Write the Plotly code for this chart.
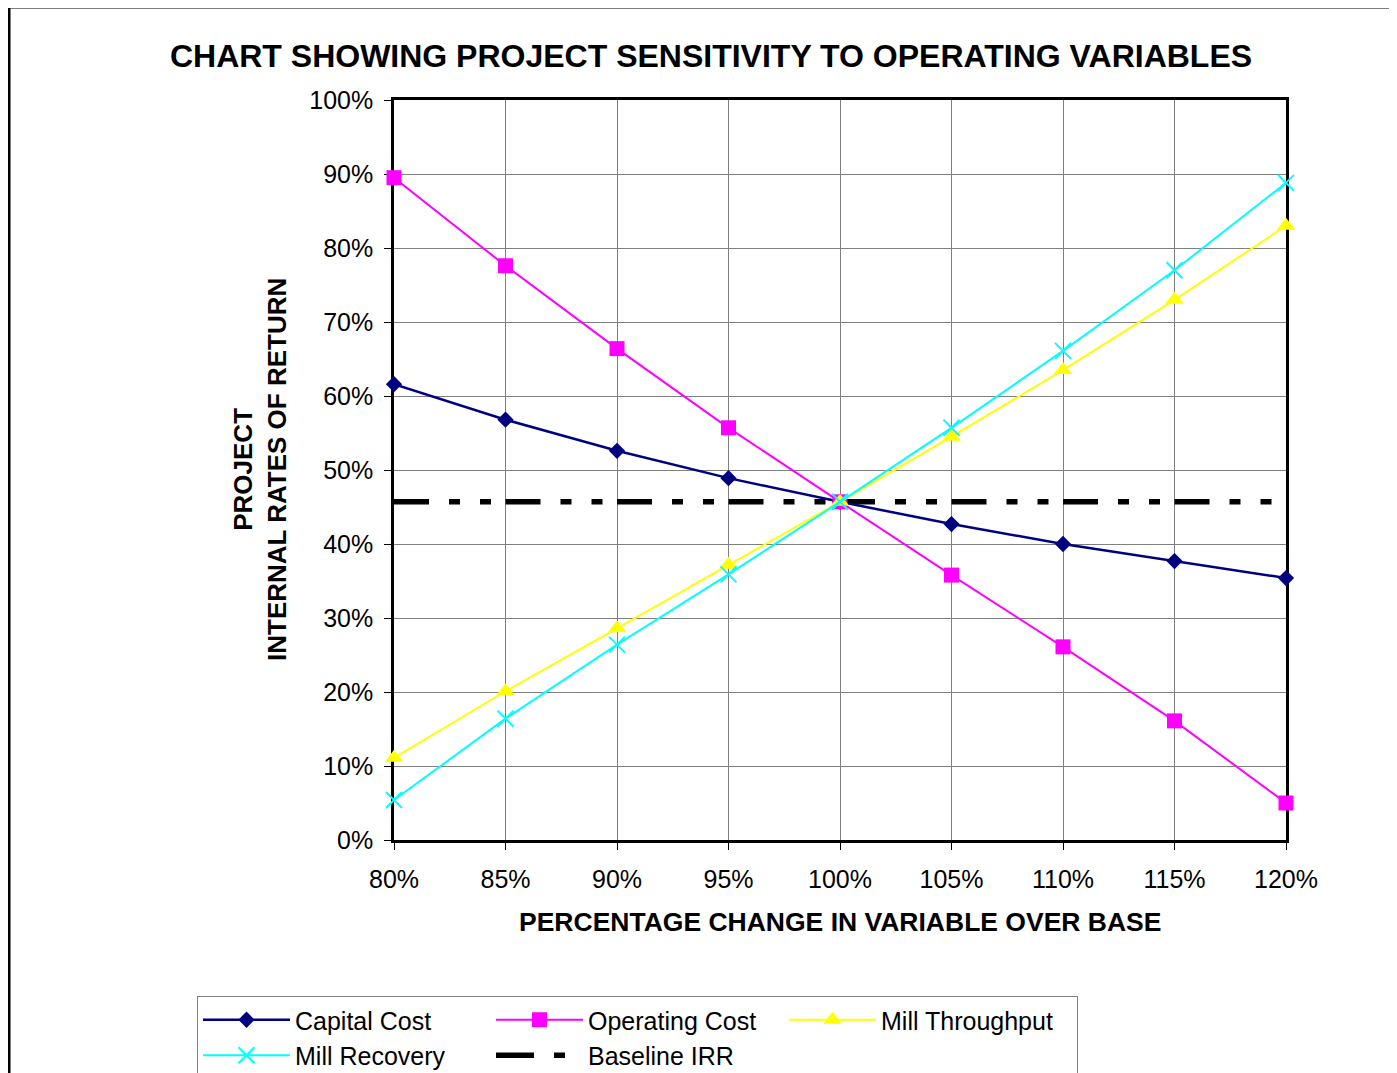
import plotly.graph_objects as go

x_pct = [80, 85, 90, 95, 100, 105, 110, 115, 120]
capital_cost = [61.6, 56.8, 52.6, 48.9, 45.7, 42.7, 40.0, 37.7, 35.4]
operating_cost = [89.5, 77.6, 66.4, 55.7, 45.7, 35.8, 26.1, 16.1, 5.0]
mill_throughput = [11.1, 20.1, 28.6, 37.2, 45.7, 54.5, 63.5, 73.0, 83.0]
mill_recovery = [5.4, 16.4, 26.4, 35.9, 45.7, 55.7, 66.1, 77.0, 88.8]
baseline_irr = [45.7] * len(x_pct)

x_ticks = [80, 85, 90, 95, 100, 105, 110, 115, 120]
x_ticklabels = ["80%", "85%", "90%", "95%", "100%", "105%", "110%", "115%", "120%"]
y_ticks = [0, 10, 20, 30, 40, 50, 60, 70, 80, 90, 100]
y_ticklabels = ["0%", "10%", "20%", "30%", "40%", "50%", "60%", "70%", "80%", "90%", "100%"]

FONT = "Arial, Liberation Sans, sans-serif"
OFF = 8  # page body offset

fig = go.Figure()
fig.add_trace(go.Scatter(x=x_pct, y=baseline_irr, name="Baseline IRR", mode="lines",
                         showlegend=False,
                         line=dict(color="black", width=5.5,
                                   dash="35px,20px,11px,20px,11px,14.5px")))
fig.add_trace(go.Scatter(x=x_pct, y=capital_cost, name="Capital Cost", mode="lines+markers",
                         legendrank=1,
                         line=dict(color="#000080", width=2.5),
                         marker=dict(symbol="diamond", size=12.5, color="#000080"),
                         cliponaxis=False))
fig.add_trace(go.Scatter(x=x_pct, y=operating_cost, name="Operating Cost", mode="lines+markers",
                         legendrank=2,
                         line=dict(color="#FF00FF", width=2),
                         marker=dict(symbol="square", size=15, color="#FF00FF"),
                         cliponaxis=False))
fig.add_trace(go.Scatter(x=x_pct, y=mill_throughput, name="Mill Throughput", mode="lines+markers",
                         legendrank=3,
                         line=dict(color="#FFFF00", width=2),
                         marker=dict(symbol="triangle-up", size=16, color="#FFFF00"),
                         cliponaxis=False))
fig.add_trace(go.Scatter(x=x_pct, y=mill_recovery, name="Mill Recovery", mode="lines+markers",
                         legendrank=4,
                         line=dict(color="#00FFFF", width=2),
                         marker=dict(symbol="x-thin", size=16, color="#00FFFF",
                                     line=dict(color="#00FFFF", width=2)),
                         cliponaxis=False))
# legend entry for the baseline (dash pattern adapted to the short legend sample)
fig.add_trace(go.Scatter(x=[None], y=[None], name="Baseline IRR", mode="lines",
                         legendrank=5,
                         line=dict(color="black", width=5.5, dash="38px,20px,11px,60px")))

axis_common = dict(
    showgrid=True, gridcolor="#808080", gridwidth=1,
    showline=True, linecolor="black", linewidth=2.5, mirror=True,
    ticks="outside", ticklen=7, tickcolor="black", tickwidth=1,
    tickfont=dict(family=FONT, size=25, color="black"),
    zeroline=False, layer="below traces",
)

fig.update_xaxes(range=[80, 120], tickmode="array", tickvals=x_ticks, ticktext=x_ticklabels,
                 ticklabelstandoff=8, **axis_common)
fig.update_yaxes(range=[0, 100], tickmode="array", tickvals=y_ticks, ticktext=y_ticklabels,
                 ticklabelstandoff=6, **axis_common)

W, H = 1397 - OFF, 1073 - OFF
L, T = 394 - OFF, 100 - OFF
fig.update_layout(
    width=W, height=H,
    margin=dict(l=L, r=W - L - 892, t=T, b=H - T - 740, autoexpand=False),
    paper_bgcolor="white", plot_bgcolor="white",
    font=dict(family=FONT, color="black"),
    title=dict(text="<b>CHART SHOWING PROJECT SENSITIVITY TO OPERATING VARIABLES</b>",
               x=(711 - OFF) / W, xanchor="center", xref="container",
               y=1 - (56 - OFF) / H, yanchor="middle", yref="container",
               font=dict(family=FONT, size=32, color="black")),
    showlegend=True,
    legend=dict(orientation="h", xref="container", yref="container",
                x=(197 - OFF) / W, y=1 - (996 - OFF) / H, xanchor="left", yanchor="top",
                bgcolor="white", bordercolor="#808080", borderwidth=1,
                font=dict(family=FONT, size=25, color="black"),
                itemwidth=87, entrywidth=191, entrywidthmode="pixels",
                traceorder="normal"),
    annotations=[
        dict(text="<b>PERCENTAGE CHANGE IN VARIABLE OVER BASE</b>", xref="paper", yref="paper",
             x=0.5, y=(840 - 922) / 740, xanchor="center", yanchor="middle", showarrow=False,
             font=dict(family=FONT, size=26.5, color="black")),
        dict(text="<b>PROJECT<br>INTERNAL RATES OF RETURN</b>", xref="paper", yref="paper",
             x=(260 - 394) / 892, y=0.5, xanchor="center", yanchor="middle", showarrow=False,
             textangle=-90, font=dict(family=FONT, size=26, color="black")),
    ],
    shapes=[
        dict(type="rect", xref="paper", yref="paper",
             x0=(9 - 394) / 892, x1=(1420 - 394) / 892,
             y0=(840 - 1090) / 740, y1=(840 - 7) / 740,
             line=dict(color="black", width=3), fillcolor="rgba(0,0,0,0)", layer="below"),
    ],
)

fig.write_html("out.html")
